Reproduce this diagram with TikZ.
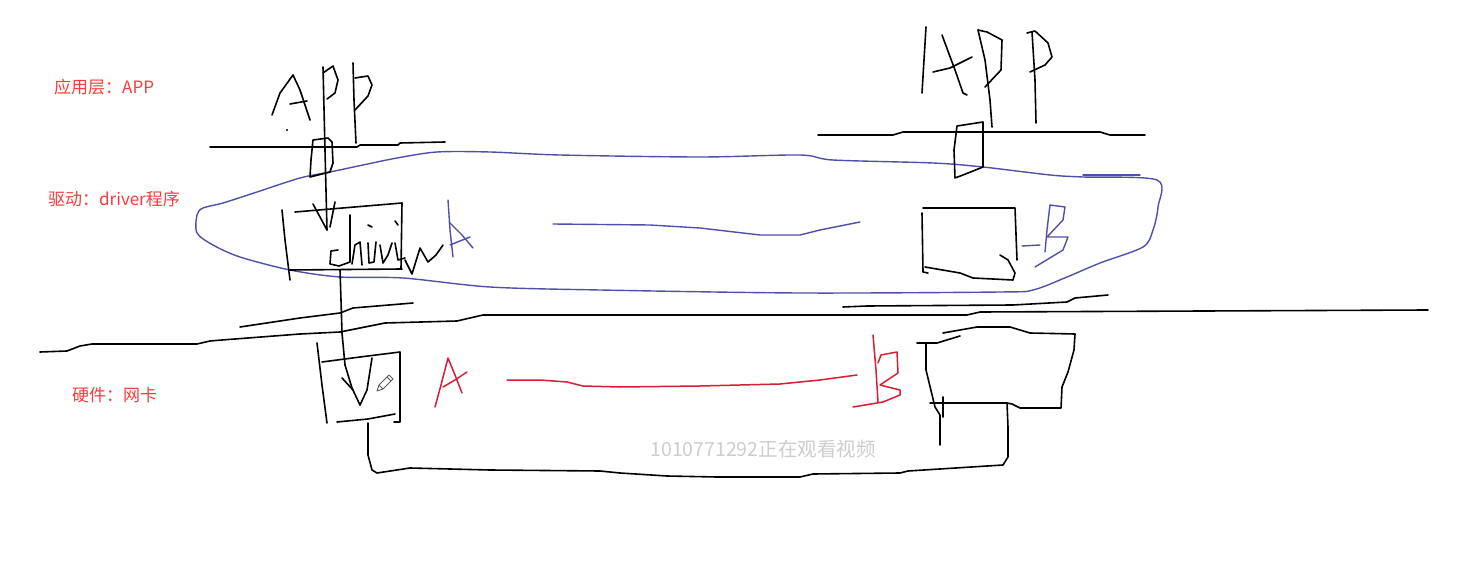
\documentclass[tikz,border=0pt]{standalone}
\usepackage{fontspec}
\newfontfamily\cjk{Noto Sans CJK SC}
\definecolor{labelred}{RGB}{250,60,60}
\definecolor{inkred}{RGB}{215,30,50}
\definecolor{inkblue}{RGB}{80,80,170}
\definecolor{wmgray}{RGB}{205,205,205}
\tikzset{
  ink/.style={black, line width=1.6pt, line join=round, line cap=round},
  blueink/.style={inkblue, line width=1.4pt, line join=round, line cap=round},
  redink/.style={inkred, line width=1.5pt, line join=round, line cap=round},
  lbl/.style={text=labelred, font=\cjk\fontsize{17}{20}\selectfont, anchor=west, inner sep=0pt},
  wm/.style={text=wmgray, font=\cjk\fontsize{19.5}{22}\selectfont, inner sep=0pt},
  pencil/.style={gray!70!black, line width=0.9pt, line join=round, fill=white}
}
\begin{document}
\begin{tikzpicture}[x=1pt,y=-1pt]
\useasboundingbox[fill=white] (0,0) rectangle (1484,572);

% labels
\node[lbl] (l1) at (54,87) {应用层：APP};
\node[lbl] (l2) at (48,199) {驱动：driver程序};
\node[lbl] (l3) at (72,395) {硬件：网卡};
\node[wm] (wm) at (763,449) {1010771292正在观看视频};

% blue outline
\draw[blueink] plot[smooth cycle, tension=0.5] coordinates {(197,215)(203,208)(223,203)(257,192)(300,178)(330,172)(363,165)(397,158)(437,152)(490,152)(560,155)(700,157)(800,155)(833,160)(933,163)(983,167)(1050,175)(1083,177)(1157,180)(1158,207)(1153,230)(1143,247)(1100,263)(1067,277)(1033,290)(1000,292)(800,293)(600,290)(490,287)(403,278)(340,277)(290,270)(240,257)(213,245)(197,233)};
\draw[blueink] (1083,175)--(1140,175);
\draw[blueink] (553,224)--(650,225)--(700,228)--(760,235)--(800,235)--(820,230)--(860,222);
% blue A
\draw[blueink] (453,257)--(450,230)--(448,200);
\draw[blueink] (449,222)--(462,235)--(473,248);
\draw[blueink] (450,245)--(470,237);
% blue -B
\draw[blueink] (1022,246)--(1040,245);
\draw[blueink] (1050,205)--(1047,230)--(1045,252);
\draw[blueink] (1050,205)--(1065,207)--(1063,220)--(1047,237)--(1068,237)--(1063,250)--(1035,267);

% left APP
\draw[ink] (272,115)--(280,93)--(293,75)--(300,90)--(310,120);
\draw[ink] (290,104)--(307,101);
\fill (287,130) circle (1.1);
\draw[ink] (323,67)--(325,150)--(327,230);
\draw[ink] (323,73)--(333,66)--(338,80)--(335,93)--(327,99);
\draw[ink] (313,204)--(327,230);
\draw[ink] (335,202)--(330,227);
\draw[ink] (353,63)--(354,100)--(356,143);
\draw[ink] (355,78)--(368,76)--(372,85)--(368,96)--(355,110);
% left top line
\draw[ink] (210,147)--(357,147)--(360,145)--(398,145)--(400,143)--(445,142);
% small rect left
\draw[ink] (313,140)--(328,138)--(332,142)--(333,163)--(330,172)--(310,177)--(311,160)--cycle;
% driver box
\draw[ink] (295,212)--(402,203)--(401,269);
\draw[ink] (290,270)--(402,269);
\draw[ink] (282,210)--(285,240)--(290,280);
% driver scribble
\draw[ink] (338,250)--(331,251)--(330,264)--(339,266)--(350,262)--(350,215);
\draw[ink] (352,264)--(355,245)--(360,242)--(362,265);
\draw[ink] (368,243)--(369,263)--(374,262)--(376,242);
\draw[ink] (380,245)--(383,263)--(388,255)--(392,243);
\draw[ink] (395,243)--(398,260)--(405,258);
\draw[ink] (405,260)--(412,274)--(420,248)--(428,262)--(436,255)--(443,245);
\draw[ink] (368,225)--(372,227);
\draw[ink] (395,221)--(398,225);
% vertical down to hardware
\draw[ink] (340,270)--(341,300)--(342,333)--(345,365)--(352,388)--(360,405);
\draw[ink] (342,378)--(353,390);
\draw[ink] (360,405)--(367,390)--(372,358);
% left hardware box
\draw[ink] (317,343)--(322,385)--(327,423);
\draw[ink] (322,362)--(360,357)--(400,352)--(400,422)--(394,422);
\draw[ink] (337,422)--(368,419)--(395,414);
\draw[pencil] (377,391)--(379,385)--(389,375)--(393,379)--(383,389)--cycle;
\draw[pencil] (379,385)--(383,389) (387,377)--(391,381);
% bottom loop
\draw[ink] (368,423)--(368,455)--(372,470)--(377,473)--(410,468)--(490,470)--(600,471)--(620,473)--(667,476)--(717,477)--(800,477)--(813,474)--(900,473)--(908,471)--(1003,465)--(1008,457)--(1008,427)--(1007,403)--(930,403);

% main horizontal lines
\draw[ink] (40,352)--(67,351)--(80,346)--(92,344)--(197,344)--(210,341)--(222,340)--(300,334)--(340,332)--(385,323)--(457,321)--(483,315)--(967,315)--(980,312)--(1428,310);
\draw[ink] (240,327)--(300,318)--(340,313)--(353,308)--(413,303);
\draw[ink] (843,307)--(867,306)--(1013,305)--(1067,302)--(1075,298)--(1108,295);

% right APP
\draw[ink] (926,27)--(924,60)--(922,93);
\draw[ink] (942,35)--(955,70)--(963,93)--(967,95);
\draw[ink] (933,72)--(950,68)--(972,57);
\draw[ink] (978,30)--(985,60)--(990,100)--(992,127);
\draw[ink] (978,30)--(987,32)--(1002,40)--(1001,70)--(985,87);
\draw[ink] (1032,32)--(1035,80)--(1036,123);
\draw[ink] (1027,33)--(1035,31)--(1048,43)--(1052,57)--(1045,65)--(1030,72);
\draw[ink] (818,135)--(893,135)--(903,132)--(1100,132)--(1110,135)--(1145,135);
\draw[ink] (957,126)--(983,122)--(983,167)--(963,175)--(955,178)--(954,150)--cycle;
% right driver box
\draw[ink] (923,208)--(1015,208)--(1017,260);
\draw[ink] (1000,255)--(1008,260)--(1015,273)--(1013,280)--(973,278)--(960,273)--(925,267);
\draw[ink] (922,213)--(923,272)--(928,273);
% right hardware box
\draw[ink] (917,343)--(937,343)--(960,336);
\draw[ink] (943,333)--(977,327)--(1010,327)--(1030,333)--(1075,334)--(1074,350)--(1068,372)--(1062,387)--(1061,408)--(1020,408)--(1012,404)--(1007,403);
\draw[ink] (926,343)--(926,370)--(935,407)--(940,415)--(940,445);
\draw[ink] (943,397)--(943,417);

% red A, line, B
\draw[redink] (435,407)--(441,385)--(448,358)--(455,375)--(462,393);
\draw[redink] (443,387)--(455,380)--(467,372);
\draw[redink] (507,380)--(540,380)--(567,382)--(583,386)--(620,387)--(700,386)--(780,384)--(820,380)--(857,375);
\draw[redink] (873,335)--(876,370)--(878,402);
\draw[redink] (878,363)--(881,355)--(897,352)--(898,373)--(880,385)--(900,390)--(900,395)--(883,402)--(853,407);
\end{tikzpicture}
\end{document}
